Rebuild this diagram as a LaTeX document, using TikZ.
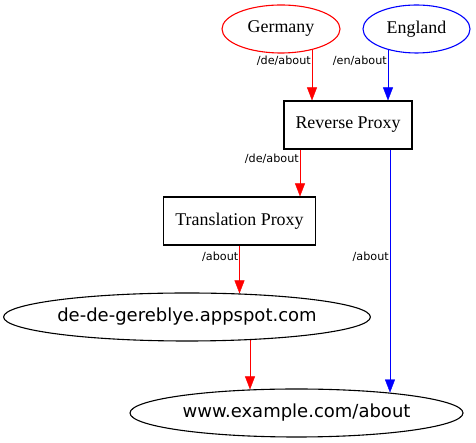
\documentclass[tikz,border=0pt]{standalone}
\usepackage{fontspec}
\setmainfont{Liberation Serif}
\newfontfamily\dejavu{DejaVu Sans}
\usetikzlibrary{shapes.geometric}
\usetikzlibrary{arrows.meta}
\usetikzlibrary{backgrounds}

\begin{document}
\begin{tikzpicture}
[x=1pt,y=1pt,line width=1.1pt,%
  edgeRed/.style={draw=red,-{Triangle[length=13pt,width=10pt]}},%
  edgeBlue/.style={draw=blue,-{Triangle[length=13pt,width=10pt]}},%
  boxDecorate/.style={shape=rectangle,draw,fill=white,inner sep=0pt,minimum height=48pt,font=\fontsize{17.9}{20}\selectfont},%
  ellipseDecorate/.style={shape=ellipse,draw,fill=white,inner sep=0pt,minimum height=48pt},%
  serifText/.style={font=\fontsize{17.9}{20}\selectfont},%
  sansText/.style={font=\dejavu\fontsize{18}{21}\selectfont},%
  labelDecorate/.style={anchor=east,inner sep=0pt,xshift=-1pt,text=black,font=\dejavu\fontsize{11.2}{13}\selectfont}]
\useasboundingbox (0,0) rectangle (476,443);
%% nodes
\node[ellipseDecorate,serifText,draw=red,minimum width=118pt] (germany) at (281,414) {Germany};
\node[ellipseDecorate,serifText,draw=blue,minimum width=107pt] (england) at (416.5,414) {England};
\node[boxDecorate,minimum width=128pt] (rp) at (348,318) {Reverse Proxy};
\node[boxDecorate,minimum width=152pt] (tp) at (239.5,222) {Translation Proxy};
\node[ellipseDecorate,sansText,minimum width=364pt] (appspot) at (187,126) {de-de-gereblye.appspot.com};
\node[ellipseDecorate,sansText,minimum width=333pt] (example) at (296.5,30) {www.example.com/about};
%% edges and their labels
\begin{scope}[on background layer]
\draw[edgeRed] ([xshift=31pt]germany.center) -- node[labelDecorate,pos=0.444] {/de/about} ([xshift=-36pt]rp.north);
\draw[edgeBlue] ([xshift=-28.5pt]england.center) -- node[labelDecorate,pos=0.444] {/en/about} ([xshift=40pt]rp.north);
\draw[edgeRed] ([xshift=-48pt]rp.center) -- node[labelDecorate,pos=0.472] {/de/about} ([xshift=60.5pt]tp.north);
\draw[edgeBlue] ([xshift=42pt]rp.center) -- node[labelDecorate,pos=0.492] {/about} ([xshift=93.5pt,yshift=-4.1pt]example.north);
\draw[edgeRed] (tp.center) -- node[labelDecorate,pos=0.493] {/about} ([xshift=52.5pt,yshift=-1pt]appspot.north);
\draw[edgeRed] ([xshift=63pt]appspot.center) -- ([xshift=-46.5pt,yshift=-1pt]example.north);
\end{scope}
\end{tikzpicture}
\end{document}
